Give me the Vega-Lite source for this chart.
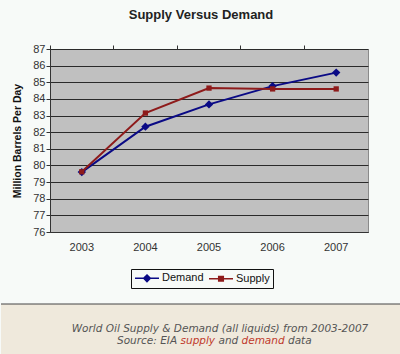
{
  "$schema": "https://vega.github.io/schema/vega-lite/v6.json",
  "background": "#f7faf8",
  "padding": {"left": 0, "top": 8, "right": 0, "bottom": 0},
  "spacing": 14,
  "resolve": {"legend": {"color": "independent"}},
  "config": {
    "font": "Liberation Sans",
    "view": {"stroke": null},
    "axis": {"labelFont": "Liberation Sans", "labelFontSize": 11, "labelColor": "#333333", "titleFont": "Liberation Sans"}
  },
  "vconcat": [
    {
      "title": {"text": "Supply Versus Demand", "anchor": "middle", "frame": "group", "dx": -8, "fontSize": 13, "fontWeight": "bold", "color": "#222222", "offset": 21},
      "width": 318,
      "height": 183,
      "view": {"fill": "#c0c0c0", "stroke": "#8a8a8a", "strokeWidth": 1},
      "data": {"values": [
        {"year": "2003", "series": "Demand", "value": 79.6},
        {"year": "2004", "series": "Demand", "value": 82.33},
        {"year": "2005", "series": "Demand", "value": 83.67},
        {"year": "2006", "series": "Demand", "value": 84.77},
        {"year": "2007", "series": "Demand", "value": 85.58},
        {"year": "2003", "series": "Supply", "value": 79.62},
        {"year": "2004", "series": "Supply", "value": 83.15},
        {"year": "2005", "series": "Supply", "value": 84.65},
        {"year": "2006", "series": "Supply", "value": 84.6},
        {"year": "2007", "series": "Supply", "value": 84.6}
      ]},
      "encoding": {
        "y": {"field": "value", "type": "quantitative",
          "scale": {"domain": [76, 87], "nice": false, "zero": false},
          "axis": {"title": "Million Barrels Per Day", "titleFontSize": 10.5, "titleFontWeight": "bold", "titleColor": "#111111", "titlePadding": 10,
            "values": [76, 77, 78, 79, 80, 81, 82, 83, 84, 85, 86, 87], "format": "d", "labelOverlap": false,
            "grid": true, "gridColor": "#2a2a2a", "gridOpacity": 1, "gridWidth": 1,
            "tickSize": 4, "tickColor": "#333333", "labelPadding": 1, "domainColor": "#333333"}},
        "color": {"field": "series", "type": "nominal",
          "scale": {"domain": ["Demand", "Supply"], "range": ["#0a0a85", "#8e1b1b"]},
          "legend": {"orient": "none", "legendX": 81, "legendY": 220, "title": null, "direction": "horizontal",
            "strokeColor": "#111111", "padding": 3, "columnPadding": 1,
            "labelFontSize": 11, "labelColor": "#111111", "labelOffset": 9, "symbolSize": 100, "symbolOffset": 7,
            "encode": {"symbols": {"update": {
              "shape": {"signal": "datum.value === 'Demand' ? 'M-2.4,0L2.4,0M0,-0.65L0.65,0L0,0.65L-0.65,0Z' : 'M-2.4,0L2.4,0M-0.45,-0.45L0.45,-0.45L0.45,0.45L-0.45,0.45Z'"},
              "fill": {"scale": "color", "field": "value"},
              "stroke": {"scale": "color", "field": "value"},
              "strokeWidth": {"value": 1.6},
              "opacity": {"value": 1}
            }}}}}
      },
      "resolve": {"axis": {"x": "independent"}},
      "layer": [
        {
          "mark": {"type": "line", "strokeWidth": 2},
          "encoding": {
            "x": {"field": "year", "type": "ordinal", "scale": {"type": "band", "paddingInner": 0, "paddingOuter": 0},
              "axis": {"title": null, "labelAngle": 0, "ticks": false, "domain": true, "domainColor": "#333333", "labelPadding": 9, "grid": false}}
          }
        },
        {
          "mark": {"type": "point", "filled": true, "opacity": 1},
          "encoding": {
            "x": {"field": "year", "type": "ordinal",
              "axis": {"title": null, "labels": false, "domain": false, "ticks": true, "tickSize": 4, "tickColor": "#333333", "bandPosition": 0, "grid": false}},
            "shape": {"field": "series", "type": "nominal", "scale": {"domain": ["Demand", "Supply"], "range": ["diamond", "square"]}, "legend": null},
            "size": {"field": "series", "type": "nominal", "scale": {"domain": ["Demand", "Supply"], "range": [70, 28]}, "legend": null}
          }
        }
      ]
    },
    {
      "width": 351,
      "height": 50,
      "data": {"values": [{}]},
      "layer": [
        {"mark": {"type": "rect", "fill": "#efe9dc"}, "encoding": {"x": {"value": -49}, "x2": {"value": 351}, "y": {"value": 0}, "y2": {"value": 50}}},
        {"mark": {"type": "rule", "stroke": "#444444", "strokeWidth": 1}, "encoding": {"x": {"value": -49}, "x2": {"value": 351}, "y": {"value": 0}}},
        {"mark": {"type": "text", "text": "World Oil Supply & Demand (all liquids) from 2003-2007", "font": "DejaVu Sans", "fontStyle": "italic", "fontSize": 10.5, "fill": "#555555", "align": "center", "baseline": "middle"}, "encoding": {"x": {"value": 170}, "y": {"value": 25}}},
        {"mark": {"type": "text", "text": "Source: EIA", "font": "DejaVu Sans", "fontStyle": "italic", "fontSize": 10.5, "fill": "#555555", "align": "left", "baseline": "middle"}, "encoding": {"x": {"value": 67}, "y": {"value": 37}}},
        {"mark": {"type": "text", "text": "supply", "font": "DejaVu Sans", "fontStyle": "italic", "fontSize": 10.5, "fill": "#c0392b", "align": "left", "baseline": "middle"}, "encoding": {"x": {"value": 130.5}, "y": {"value": 37}}},
        {"mark": {"type": "text", "text": "and", "font": "DejaVu Sans", "fontStyle": "italic", "fontSize": 10.5, "fill": "#555555", "align": "left", "baseline": "middle"}, "encoding": {"x": {"value": 168.5}, "y": {"value": 37}}},
        {"mark": {"type": "text", "text": "demand", "font": "DejaVu Sans", "fontStyle": "italic", "fontSize": 10.5, "fill": "#c0392b", "align": "left", "baseline": "middle"}, "encoding": {"x": {"value": 191.5}, "y": {"value": 37}}},
        {"mark": {"type": "text", "text": "data", "font": "DejaVu Sans", "fontStyle": "italic", "fontSize": 10.5, "fill": "#555555", "align": "left", "baseline": "middle"}, "encoding": {"x": {"value": 238}, "y": {"value": 37}}}
      ]
    }
  ]
}
